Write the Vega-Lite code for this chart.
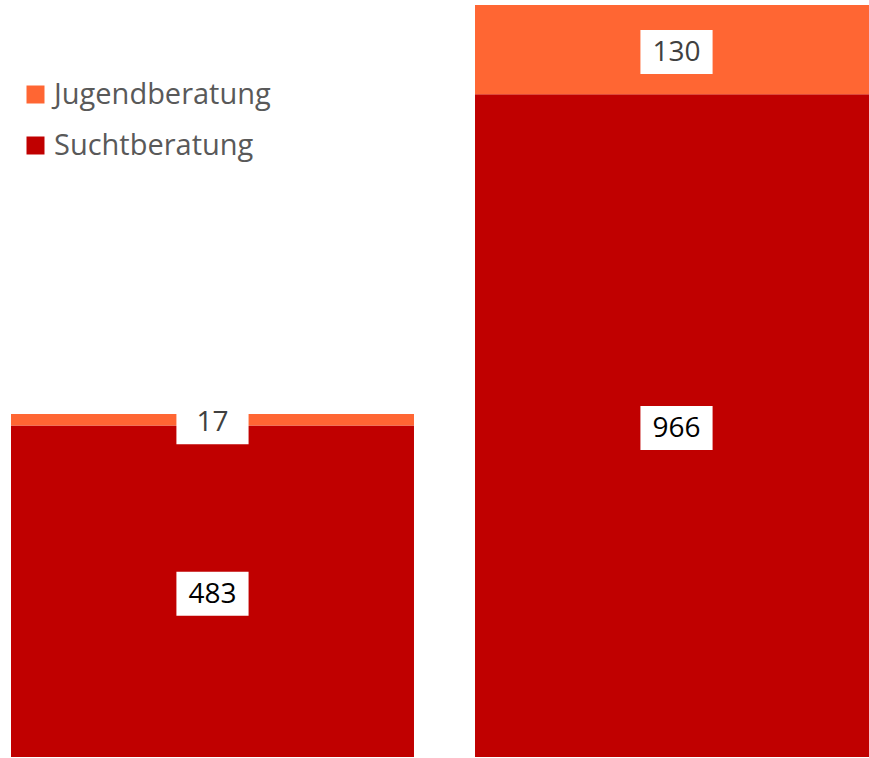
{
  "$schema": "https://vega.github.io/schema/vega-lite/v6.json",
  "width": 869,
  "height": 758,
  "padding": 0,
  "autosize": {"type": "none"},
  "background": "white",
  "config": {"view": {"stroke": null}, "font": "Open Sans"},
  "data": {"values": [
    {"Gruppe": "Balken 1", "Art": "Suchtberatung", "Wert": 483},
    {"Gruppe": "Balken 1", "Art": "Jugendberatung", "Wert": 17},
    {"Gruppe": "Balken 2", "Art": "Suchtberatung", "Wert": 966},
    {"Gruppe": "Balken 2", "Art": "Jugendberatung", "Wert": 130}
  ]},
  "transform": [
    {"stack": "Wert", "groupby": ["Gruppe"], "sort": [{"field": "Art", "order": "descending"}], "as": ["y0", "y1"]},
    {"calculate": "(datum.y0 + datum.y1) / 2", "as": "ymid"}
  ],
  "encoding": {
    "x": {"field": "Gruppe", "type": "nominal", "axis": null,
          "scale": {"range": [11, 878], "paddingInner": 0.1315, "paddingOuter": 0}}
  },
  "layer": [
    {
      "mark": {"type": "bar"},
      "encoding": {
        "y": {"field": "y1", "type": "quantitative", "axis": null, "scale": {"domain": [0, 1096], "range": [757, 5], "nice": false, "zero": true}},
        "y2": {"field": "y0"},
        "color": {"field": "Art", "type": "nominal",
          "scale": {"domain": ["Jugendberatung", "Suchtberatung"], "range": ["#FF6633", "#C00000"]},
          "legend": {"orient": "none", "legendX": 21, "legendY": 80, "title": null,
            "symbolType": "square", "symbolSize": 324, "symbolStrokeWidth": 0, "symbolOpacity": 1,
            "labelFontSize": 29, "labelColor": "#595959", "labelFont": "Open Sans",
            "labelOffset": 4, "rowPadding": 21, "padding": 0, "labelLimit": 400}}
      }
    },
    {
      "mark": {"type": "point", "shape": "M-1.64,-1L1.64,-1L1.64,1L-1.64,1Z", "filled": true, "fill": "white", "opacity": 1, "strokeWidth": 0, "size": 1936, "yOffset": 2.5},
      "encoding": {
        "y": {"field": "ymid", "type": "quantitative"}
      }
    },
    {
      "mark": {"type": "text", "fontSize": 28, "font": "Open Sans", "baseline": "middle", "align": "center", "yOffset": 3.5},
      "encoding": {
        "y": {"field": "ymid", "type": "quantitative"},
        "text": {"field": "Wert", "type": "quantitative"},
        "color": {"condition": {"test": "datum.Art === 'Jugendberatung'", "value": "#404040"}, "value": "#000000"}
      }
    }
  ]
}
